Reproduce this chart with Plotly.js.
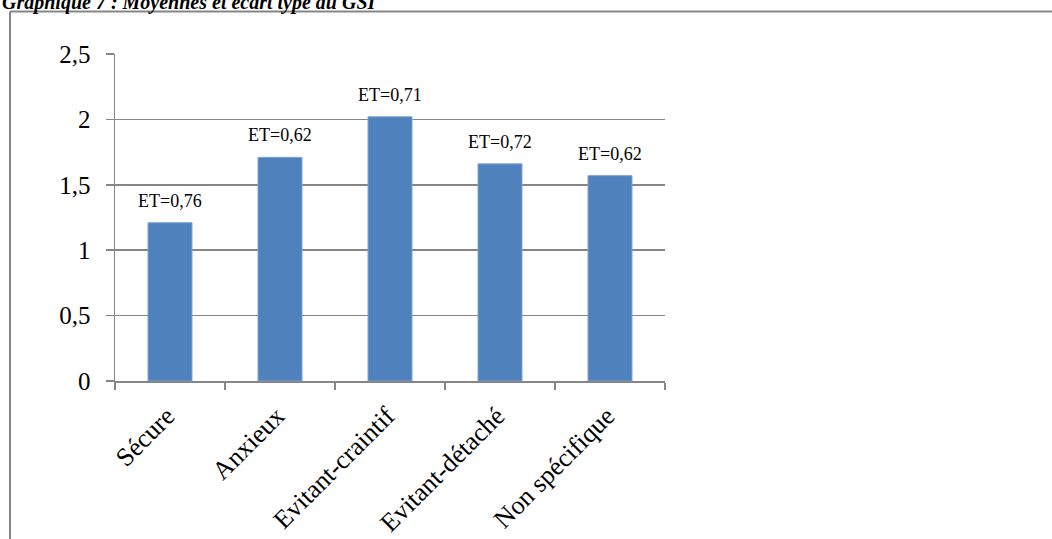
<!DOCTYPE html>
<html>
<head>
<meta charset="utf-8">
<script src="https://cdn.plot.ly/plotly-3.0.1.min.js"></script>
<style>
  html, body { margin: 0; padding: 0; background: #ffffff; }
  #chart { width: 1052px; height: 539px; }
</style>
</head>
<body>
<div id="chart"></div>
<script>
// Attachment styles (GSI): mean score and standard deviation per style
const categories = ['Sécure', 'Anxieux', 'Evitant-craintif', 'Evitant-détaché', 'Non spécifique'];
const means = [1.21, 1.71, 2.02, 1.66, 1.57];
const stdDevs = [0.76, 0.62, 0.71, 0.72, 0.62];
const yTickValues = [0, 0.5, 1, 1.5, 2, 2.5];
const chartTitle = 'Graphique 7 : Moyennes et écart type du GSI';

const W = 1052, H = 539;
const plotLeft = 115, plotRight = 665, plotTop = 54, plotBottom = 381;
const pw = plotRight - plotLeft, ph = plotBottom - plotTop;
const px = x => (x - plotLeft) / pw;      // pixel -> paper x
const py = y => (plotBottom - y) / ph;    // pixel -> paper y

const serif = 'Liberation Serif, Times New Roman, serif';
const grey = '#868686';

const fmt = v => 'ET=' + v.toFixed(2).replace('.', ',');

const sdNotes = categories.map((c, i) => ({
  x: c, y: means[i], xref: 'x', yref: 'y',
  text: fmt(stdDevs[i]), showarrow: false,
  yanchor: 'bottom', yshift: 10,
  font: { family: serif, size: 18, color: '#000000' }
}));

const titleNote = {
  xref: 'paper', yref: 'paper', x: px(0), y: py(16),
  xanchor: 'left', yanchor: 'bottom', showarrow: false,
  text: chartTitle,
  font: { family: serif, size: 20, color: '#000000', weight: 'bold', style: 'italic' }
};

const bars = {
  type: 'bar',
  x: categories,
  y: means,
  marker: { color: '#4F81BD', line: { color: '#7ea3d2', width: 1 } },
  hoverinfo: 'x+y'
};

const layout = {
  width: W, height: H,
  margin: { l: plotLeft, r: W - plotRight, t: plotTop, b: H - plotBottom, pad: 0 },
  paper_bgcolor: '#ffffff', plot_bgcolor: '#ffffff',
  separators: ', ',
  bargap: 0.6,
  showlegend: false,
  xaxis: {
    type: 'category',
    tickangle: -45,
    ticks: 'outside', tickson: 'boundaries', ticklen: 7, tickcolor: grey, tickwidth: 1.5,
    ticklabelshift: -3, ticklabelstandoff: 8,
    showline: true, linecolor: grey, linewidth: 1.5,
    showgrid: false, zeroline: false,
    tickfont: { family: serif, size: 26, color: '#000000' }
  },
  yaxis: {
    range: [0, 2.5],
    tickvals: yTickValues,
    tickformat: '.1~f',
    ticks: 'outside', ticklen: 8, tickcolor: grey, tickwidth: 1.5,
    ticklabelstandoff: 10,
    showline: true, linecolor: grey, linewidth: 1.5,
    showgrid: true, gridcolor: grey, gridwidth: 1.5,
    zeroline: false,
    tickfont: { family: serif, size: 25, color: '#000000' }
  },
  shapes: [
    { type: 'line', xref: 'paper', yref: 'paper', x0: px(10), x1: px(W + 5), y0: py(11.5), y1: py(11.5),
      line: { color: grey, width: 2 } },
    { type: 'line', xref: 'paper', yref: 'paper', x0: px(10), x1: px(10), y0: py(11.5), y1: py(H + 5),
      line: { color: grey, width: 2 } }
  ],
  annotations: [titleNote].concat(sdNotes)
};

Plotly.newPlot('chart', [bars], layout, { displayModeBar: false, staticPlot: true });
</script>
</body>
</html>
